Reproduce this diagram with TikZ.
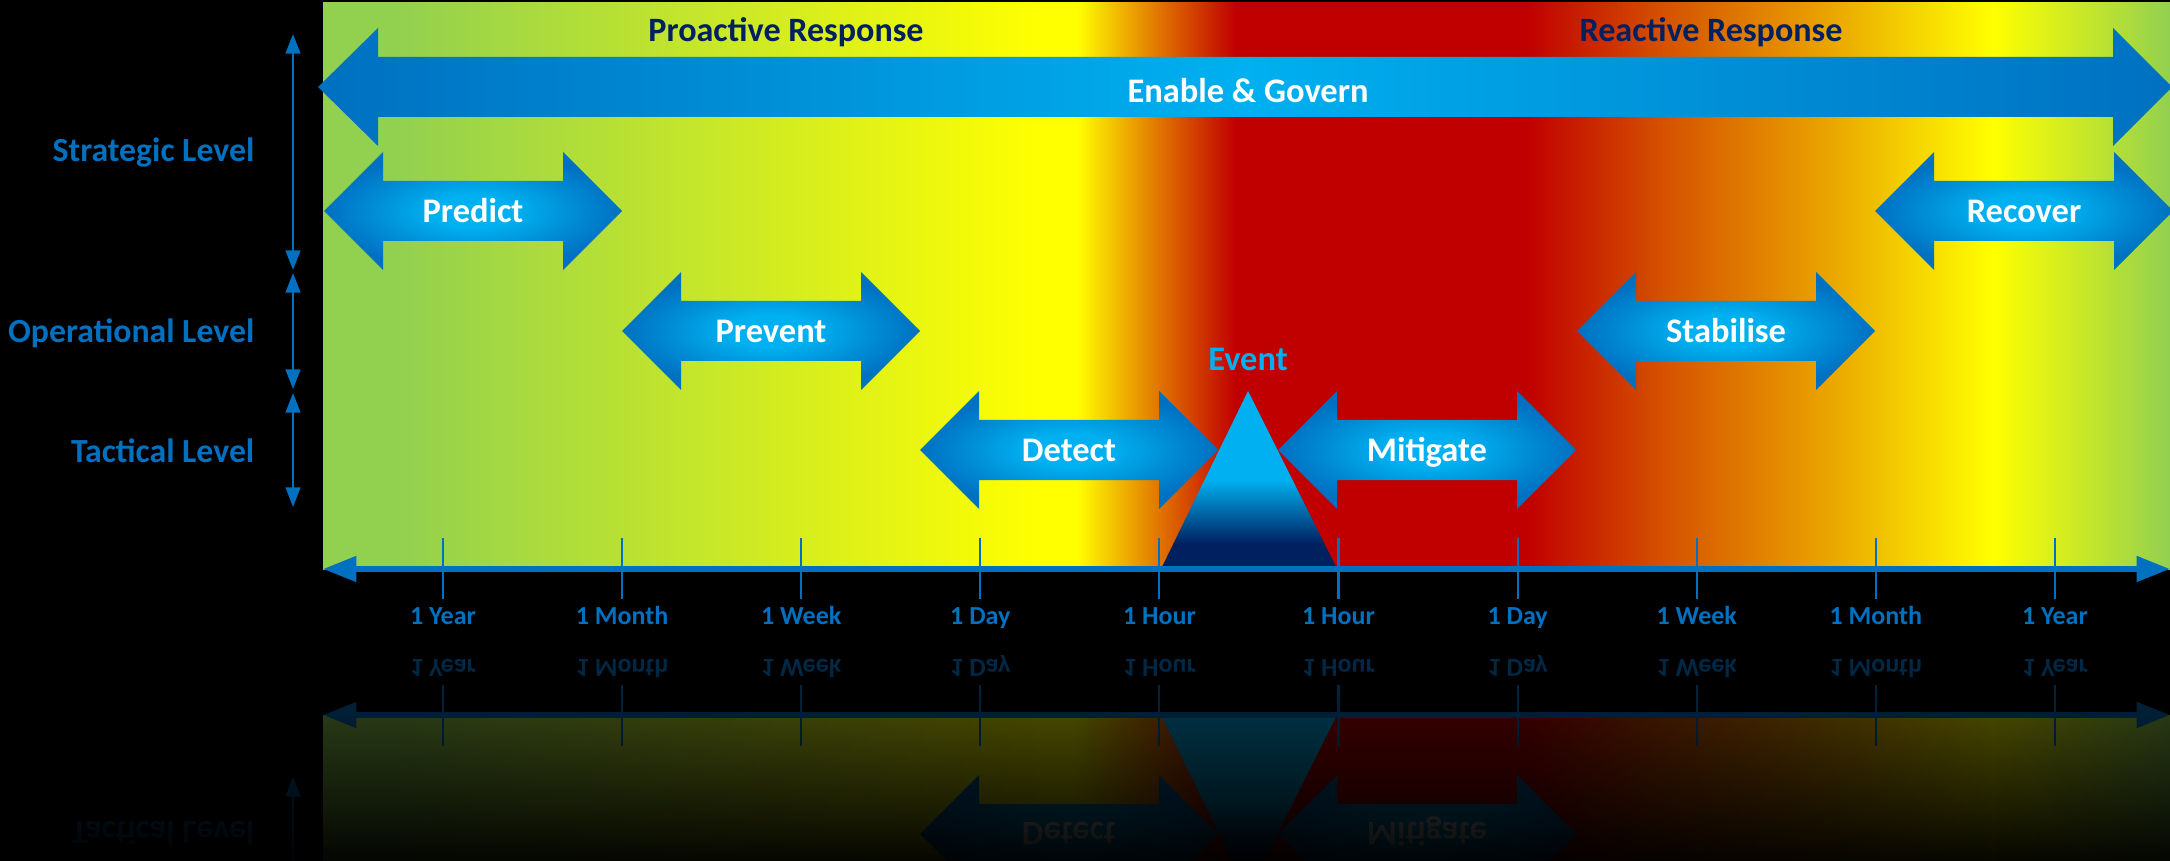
\documentclass[tikz,border=0pt]{standalone}
\usepackage{fontspec}
\setmainfont{Carlito}
\usetikzlibrary{arrows.meta,fadings}

\definecolor{levelblue}{HTML}{0070C0}
\definecolor{brightblue}{HTML}{00B0F0}
\definecolor{navy}{HTML}{002060}
\definecolor{bggreen}{HTML}{92D050}
\definecolor{bgyellow}{HTML}{FFFF00}
\definecolor{bgorange}{HTML}{E07000}
\definecolor{bgred}{HTML}{C00000}
\definecolor{bgrust}{HTML}{D45000}
\definecolor{bgamber}{HTML}{E59000}

% background of the time line: green -> yellow -> red -> yellow -> green
\pgfdeclarehorizontalshading{timeline}{100bp}{color(0bp)=(bggreen); color(25bp)=(bggreen); color(26.9bp)=(bggreen);
  color(44.4bp)=(bgyellow); color(45.4bp)=(bgyellow); color(47.7bp)=(bgorange); color(49.7bp)=(bgred);
  color(57.6bp)=(bgred); color(61.2bp)=(bgrust); color(64.7bp)=(bgamber); color(70.2bp)=(bgyellow);
  color(75bp)=(bggreen); color(100bp)=(bggreen)}
\pgfdeclarehorizontalshading{govern}{100bp}{color(0bp)=(levelblue); color(25bp)=(levelblue);
  color(50bp)=(brightblue); color(75bp)=(levelblue); color(100bp)=(levelblue)}
\pgfdeclareverticalshading{eventpeak}{100bp}{color(0bp)=(navy); color(25bp)=(navy); color(32bp)=(navy);
  color(50bp)=(brightblue); color(100bp)=(brightblue)}
\pgfdeclareradialshading{phaseglow}{\pgfpoint{0bp}{0bp}}{color(0bp)=(brightblue); color(7bp)=(brightblue);
  color(25bp)=(levelblue); color(50bp)=(levelblue)}
\tikzfading[name=mirrorfade, top color=transparent!40, bottom color=transparent!3]

\tikzset{
  levellabel/.style={font=\fontsize{9.6}{12}\selectfont\bfseries, text=levelblue, anchor=east, inner sep=0pt,
    text height=1.6ex, text depth=0.4ex},
  phaselabel/.style={font=\fontsize{9.8}{12}\selectfont\bfseries, text=white, text height=1.6ex, text depth=0.4ex},
  responselabel/.style={font=\fontsize{9.7}{12}\selectfont\bfseries, text=navy, text height=1.6ex, text depth=0.4ex},
  ticklabel/.style={font=\fontsize{7.4}{9}\selectfont\bfseries, text=levelblue, text height=1.6ex, text depth=0.4ex},
  levelarrow/.style={levelblue, line width=0.6pt, {Triangle[length=5.6pt,width=4.2pt]}-{Triangle[length=5.6pt,width=4.2pt]}},
  timeaxis/.style={levelblue, line width=1.7pt, {Triangle[length=9.5pt,width=7pt]}-{Triangle[length=9.5pt,width=7pt]}},
  tickline/.style={levelblue, line width=0.6pt},
  phase/.style={shading=phaseglow}
}

% everything above the mirror line, drawn twice (picture and reflection)
\newcommand{\timescene}{%
  \shade[shading=timeline] (323,3) rectangle (2170,569);

  % Enable & Govern
  \shade[shading=govern] (318,87) -- (378,28) -- (378,57) -- (2113,57) -- (2113,28) -- (2172,87)
    -- (2113,146) -- (2113,117) -- (378,117) -- (378,146) -- cycle;
  \node[phaselabel] (govern) at (1248,92) {Enable \& Govern};
  \node[responselabel] (proactive) at (786,31) {Proactive Response};
  \node[responselabel] (reactive) at (1711,31) {Reactive Response};

  % phase arrows
  \foreach \id/\cx/\cy/\txt in {predict/473/211/Predict, prevent/771/331/Prevent, detect/1069/450/Detect,
      mitigate/1427/450/Mitigate, stabilise/1726/331/Stabilise, recover/2024/211/Recover}{
    \shade[phase, shift={(\cx,\cy)}] (-149,0) -- (-90,-59) -- (-90,-30) -- (90,-30) -- (90,-59) -- (149,0)
      -- (90,59) -- (90,30) -- (-90,30) -- (-90,59) -- cycle;
    \node[phaselabel] (\id) at (\cx,\cy+1) {\txt};
  }

  % Event
  \shade[shading=eventpeak] (1161,569) -- (1248,391) -- (1337,569) -- cycle;
  \node[phaselabel, text=brightblue] (event) at (1248,360) {Event};

  % levels
  \node[levellabel] (strategic) at (255,151) {Strategic Level};
  \node[levellabel] (operational) at (255,332) {Operational Level};
  \node[levellabel] (tactical) at (255,452) {Tactical Level};
  \coordinate (stratT) at (293,34);
  \coordinate (stratB) at (293,270);
  \coordinate (operT) at (293,273);
  \coordinate (operB) at (293,389);
  \coordinate (tactT) at (293,393);
  \coordinate (tactB) at (293,507);
  \draw[levelarrow] (stratT) -- (stratB);
  \draw[levelarrow] (operT) -- (operB);
  \draw[levelarrow] (tactT) -- (tactB);

  % time axis
  \foreach \lbl [count=\i from 0] in {1 Year, 1 Month, 1 Week, 1 Day, 1 Hour, 1 Hour, 1 Day, 1 Week, 1 Month, 1 Year}{
    \coordinate (ta\i) at ({443+179.1*\i},538);
    \coordinate (tb\i) at ({443+179.1*\i},599);
    \draw[tickline] (ta\i) -- (tb\i);
    \node[ticklabel] (tl\i) at ({443+179.1*\i},614) {\lbl};
  }
  \coordinate (axisL) at (323,569);
  \coordinate (axisR) at (2170,569);
  \draw[timeaxis] (axisL) -- (axisR);
}

\begin{document}
\begin{tikzpicture}[x=0.01cm, y=-0.01cm]
  \fill[black] (0,0) rectangle (2170,861);
  \useasboundingbox (0,0) rectangle (2170,861);

  \timescene

  % reflection
  \begin{scope}
    \clip (0,642) rectangle (2170,861);
    \begin{scope}[shift={(0,1284)}, yscale=-1, transform shape]
      \timescene
    \end{scope}
  \end{scope}
  \fill[black, path fading=mirrorfade] (0,642) rectangle (2170,861);
\end{tikzpicture}
\end{document}
